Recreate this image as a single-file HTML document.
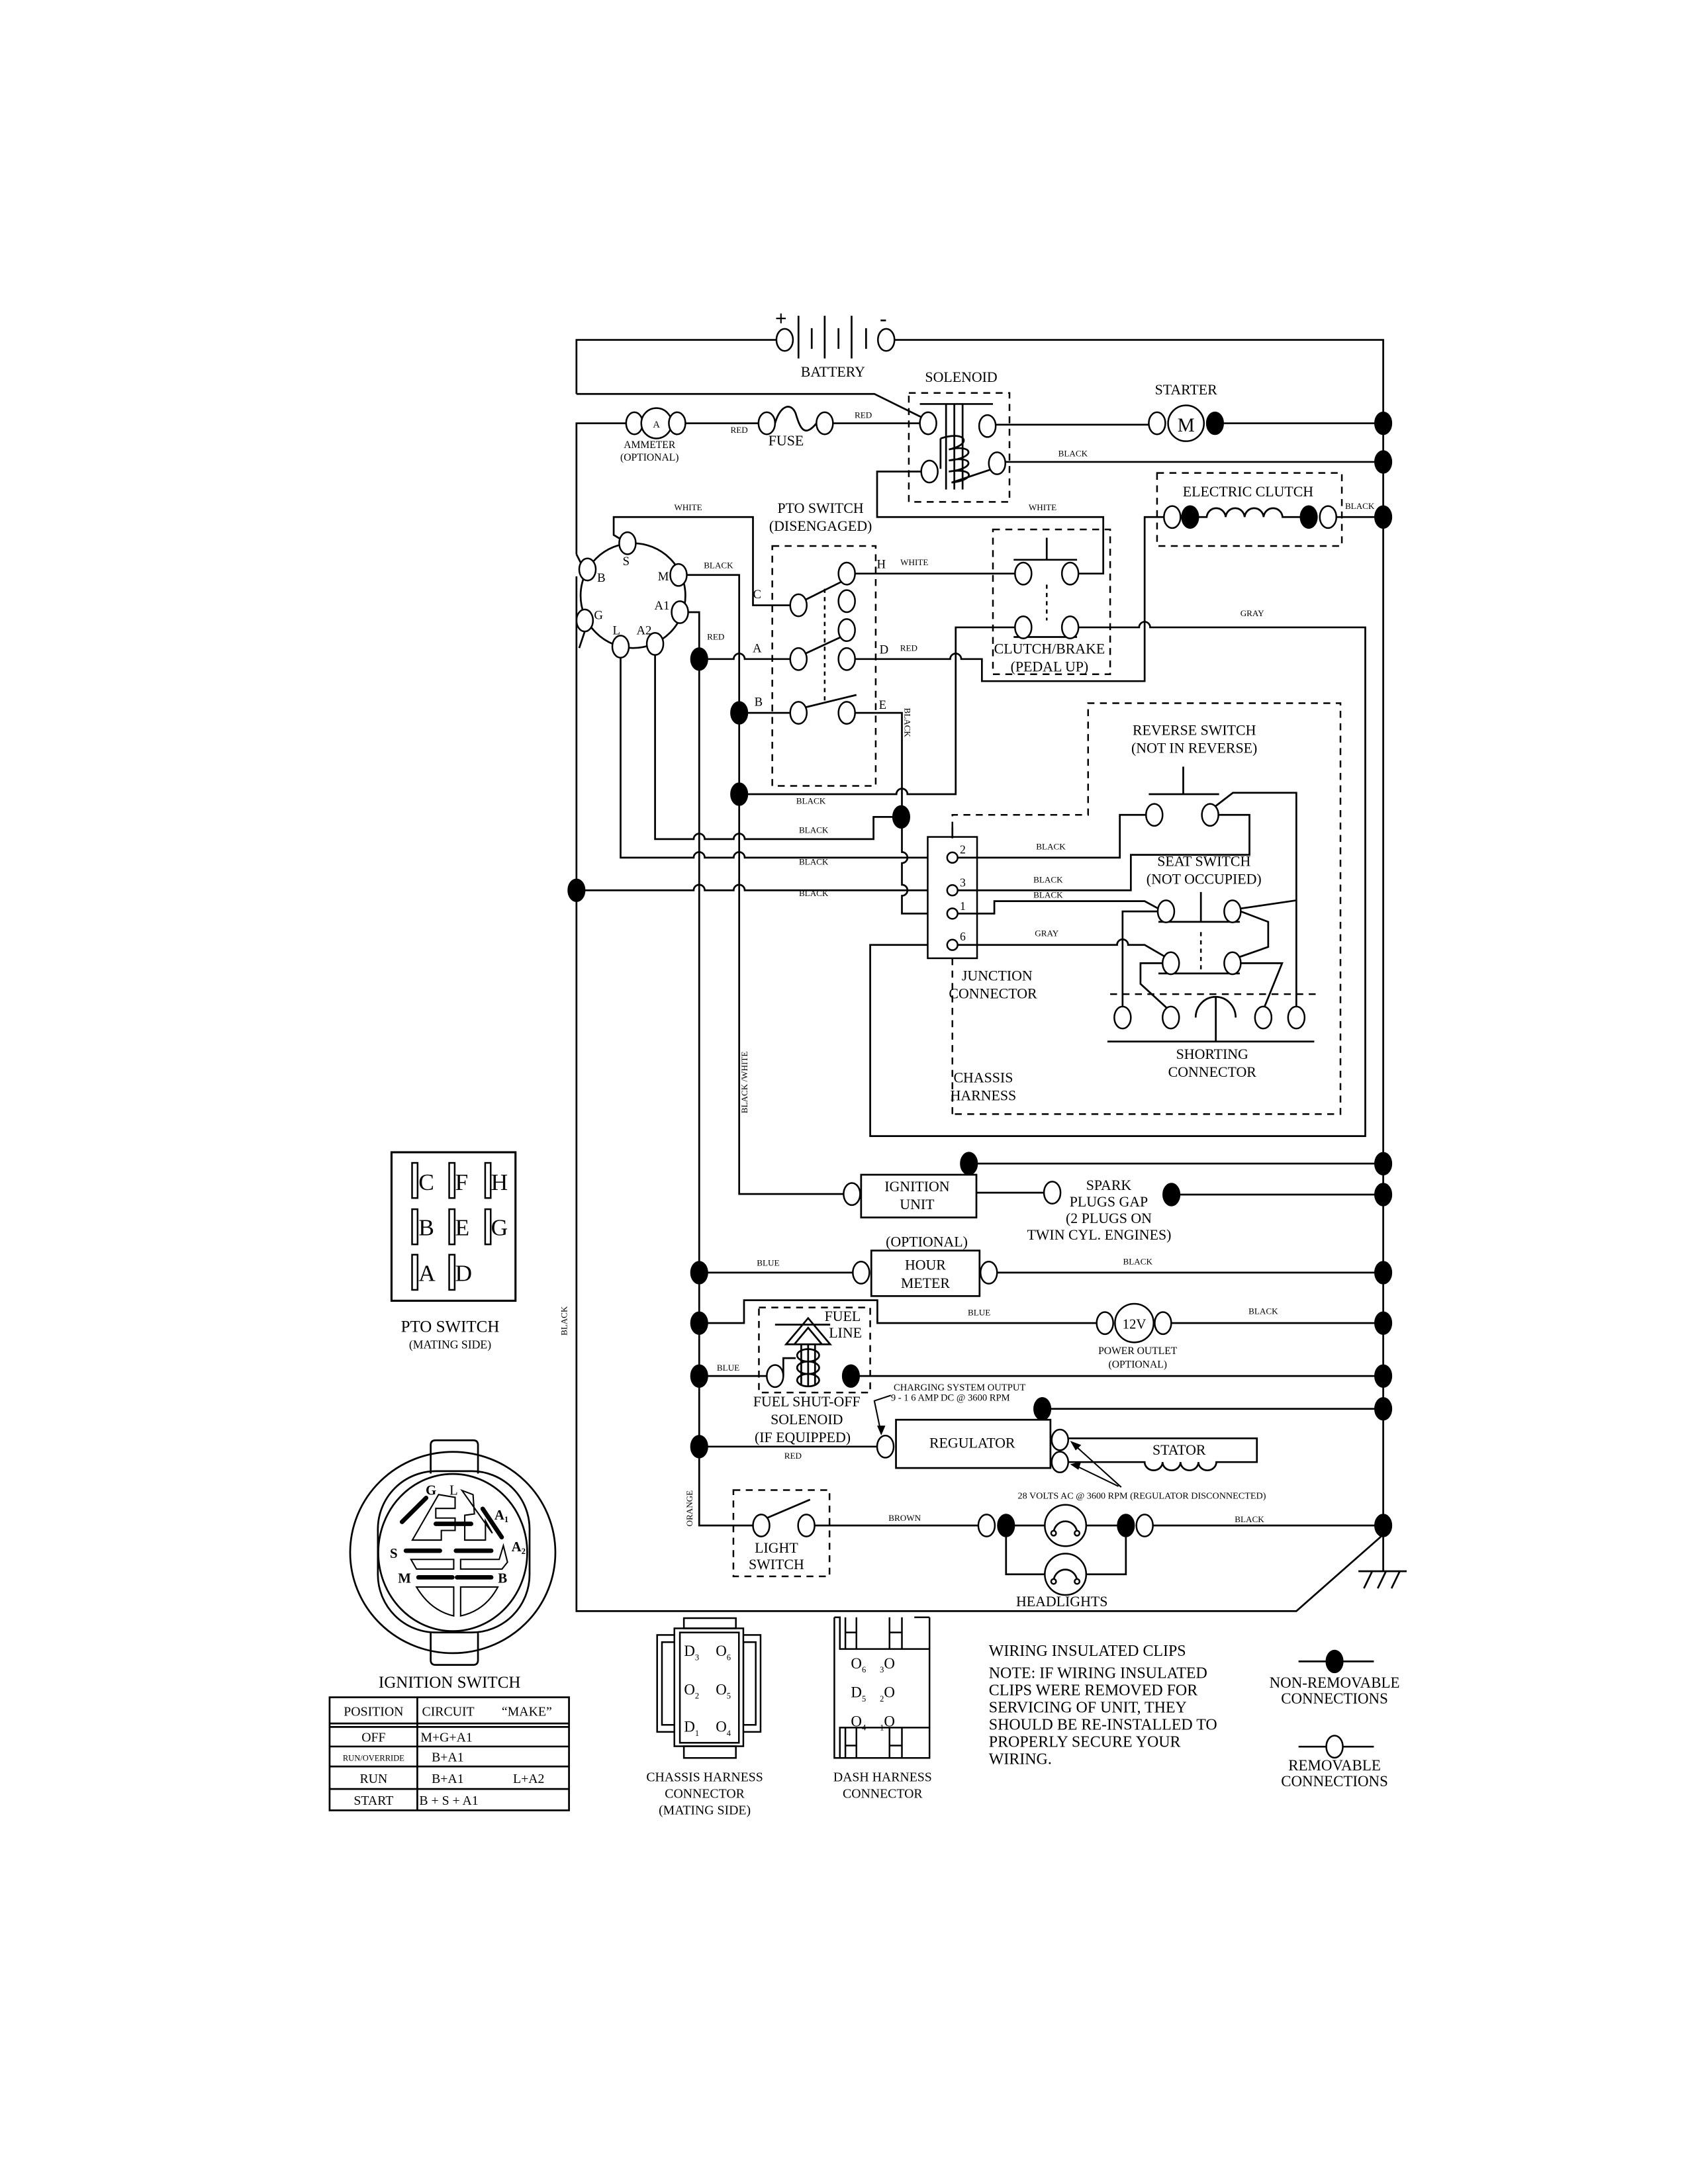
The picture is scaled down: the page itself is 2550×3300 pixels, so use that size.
<!DOCTYPE html>
<html><head><meta charset="utf-8"><style>
html,body{margin:0;padding:0;background:#fff;}
svg{display:block;}
.w{stroke:#000;fill:none;stroke-width:1.3;}
.dash{stroke:#000;fill:none;stroke-width:1.2;stroke-dasharray:5,4;}
.o{fill:#fff;stroke:#000;stroke-width:1.2;}
.d{fill:#000;stroke:#000;}
text{font-family:"Liberation Serif",serif;fill:#000;}
.L{font-size:10.5px;text-anchor:middle;}
.s{font-size:6.3px;text-anchor:middle;}
.m{font-size:9px;text-anchor:middle;}
</style></head><body>
<svg width="2550" height="3300" viewBox="0 0 1224 1584" xmlns="http://www.w3.org/2000/svg">
<rect width="1224" height="1584" fill="#fff"/>
<!-- Battery -->
<path class="w" d="M418,285.7 V246.5 H563"/>
<path class="w" d="M649,246.5 H1003 V1139.6"/>
<ellipse class="o" cx="569" cy="246.5" rx="6" ry="8"/>
<ellipse class="o" cx="642.6" cy="246.5" rx="6" ry="8"/>
<path class="w" d="M579,229 V260 M598,229 V260 M617.5,229 V260 M588.6,238 V253 M608,238 V253 M628,238 V253"/>
<text x="562" y="236" style="font-size:15px;font-weight:bold">+</text>
<text x="638" y="236" style="font-size:15px;font-weight:bold">-</text>
<text class="L" x="604" y="273">BATTERY</text>
<path class="w" d="M418,285.7 H634 L669,303"/>
<!-- Ammeter / fuse -->
<path class="w" d="M418,402 V307 H454 M497,307 H550 M604,307 H667"/>
<ellipse class="o" cx="460" cy="307" rx="6" ry="8"/>
<circle class="o" cx="476" cy="307" r="11"/>
<text x="476" y="310" style="font-size:7px;text-anchor:middle">A</text>
<ellipse class="o" cx="491" cy="307" rx="6" ry="8"/>
<ellipse class="o" cx="556" cy="307" rx="6" ry="8"/>
<path class="w" d="M562,307 C566,293 574,292 577,300 C580,310 583,318 592,307"/>
<ellipse class="o" cx="598" cy="307" rx="6" ry="8"/>
<text class="s" x="536" y="314">RED</text>
<text class="s" x="626" y="303">RED</text>
<text class="L" x="570" y="323">FUSE</text>
<text x="471" y="325" style="font-size:7.5px;text-anchor:middle">AMMETER</text>
<text x="471" y="334" style="font-size:7.5px;text-anchor:middle">(OPTIONAL)</text>
<!-- Solenoid -->
<rect class="dash" x="659" y="285" width="73" height="79"/>
<text class="L" x="697" y="277">SOLENOID</text>
<path class="w" d="M667,293 H720 M686,293 V355 M692,293 V355 M698,293 V355"/>
<path class="w" d="M682,318 C700,312 706,322 688,326 C706,322 708,332 688,334 C706,330 708,340 688,342 C706,339 708,348 690,350"/>
<path class="w" d="M682,318 V340 M690,350 L720,340"/>
<ellipse class="o" cx="673" cy="307" rx="6" ry="8"/>
<ellipse class="o" cx="716" cy="309" rx="6" ry="8"/>
<ellipse class="o" cx="674" cy="342" rx="6" ry="8"/>
<ellipse class="o" cx="723" cy="336" rx="6" ry="8"/>
<!-- Starter -->
<path class="w" d="M722,308 H833 M887,307 H1003"/>
<ellipse class="o" cx="839" cy="307" rx="6" ry="8"/>
<circle class="o" cx="860" cy="307" r="13"/>
<text x="860" y="313" style="font-size:14px;text-anchor:middle">M</text>
<ellipse class="d" cx="881" cy="307" rx="6" ry="8"/>
<text class="L" x="860" y="286">STARTER</text>
<path class="w" d="M729,335 H1003"/>
<text class="s" x="778" y="331">BLACK</text>
<path class="w" d="M668,342 H636 V375 H800 V416 H782"/>
<text class="s" x="756" y="370">WHITE</text>
<!-- Electric clutch -->
<rect class="dash" x="839" y="343" width="134" height="53"/>
<text class="L" x="905" y="360">ELECTRIC CLUTCH</text>
<path class="w" d="M869,375 H875 a6.9,7 0 0 1 13.75,0 a6.9,7 0 0 1 13.75,0 a6.9,7 0 0 1 13.75,0 a6.9,7 0 0 1 13.75,0 H943 M969,375 H1003"/>
<ellipse class="o" cx="850" cy="375" rx="6" ry="8"/>
<ellipse class="d" cx="863" cy="375" rx="6" ry="8"/>
<ellipse class="d" cx="949" cy="375" rx="6" ry="8"/>
<ellipse class="o" cx="963" cy="375" rx="6" ry="8"/>
<text class="s" x="986" y="369">BLACK</text>
<path class="w" d="M844,375 H830 V494 H712 V478 H697 a4,4 0 0 0 -8,0 H620"/>
<!-- Gray -->
<path class="w" d="M782,455 H826 a4,4 0 0 1 8,0 H990 V824 H631 V685.3 H686.6"/>
<text class="s" x="908" y="447">GRAY</text>
<!-- Clutch/brake -->
<rect class="dash" x="720" y="384" width="85" height="105"/>
<path class="w" d="M759,390 V406 M735,406 H781 M735,462 H781"/>
<path class="dash" d="M759,424 V450" style="stroke-dasharray:3,3"/>
<ellipse class="o" cx="742" cy="416" rx="6" ry="8"/>
<ellipse class="o" cx="776" cy="416" rx="6" ry="8"/>
<ellipse class="o" cx="742" cy="455" rx="6" ry="8"/>
<ellipse class="o" cx="776" cy="455" rx="6" ry="8"/>
<text class="L" x="761" y="474">CLUTCH/BRAKE</text>
<text class="L" x="761" y="487">(PEDAL UP)</text>
<path class="w" d="M736,455 H693 V576 H658 a4,4 0 0 0 -8,0 H536"/>
<text class="s" x="588" y="583">BLACK</text>
<path class="w" d="M620,416 H736"/>
<text class="s" x="663" y="410">WHITE</text>
<!-- PTO switch -->
<rect class="dash" x="560" y="396" width="75" height="174"/>
<text class="L" x="595" y="372">PTO SWITCH</text>
<text class="L" x="595" y="385">(DISENGAGED)</text>
<path class="w" d="M584,435 L612,421 M584,474 L612,461 M584,513 L621,504"/>
<path class="dash" d="M598,427 V511" style="stroke-dasharray:3,3"/>
<ellipse class="o" cx="579" cy="439" rx="6" ry="8"/>
<ellipse class="o" cx="614" cy="416" rx="6" ry="8"/>
<ellipse class="o" cx="614" cy="436" rx="6" ry="8"/>
<ellipse class="o" cx="579" cy="478" rx="6" ry="8"/>
<ellipse class="o" cx="614" cy="457" rx="6" ry="8"/>
<ellipse class="o" cx="614" cy="478" rx="6" ry="8"/>
<ellipse class="o" cx="579" cy="517" rx="6" ry="8"/>
<ellipse class="o" cx="614" cy="517" rx="6" ry="8"/>
<text class="m" x="549" y="434">C</text>
<text class="m" x="549" y="473">A</text>
<text class="m" x="550" y="512">B</text>
<text class="m" x="641" y="474">D</text>
<text class="m" x="640" y="514">E</text>
<text class="m" x="639" y="412">H</text>
<text class="s" x="659" y="472">RED</text>
<path class="w" d="M573,439 H546 V375 H445 V388 L450,391"/>
<text class="s" x="499" y="370">WHITE</text>
<!-- Ignition switch terminals -->
<circle class="w" cx="459" cy="432" r="38"/>
<ellipse class="o" cx="426" cy="413" rx="6" ry="8"/>
<ellipse class="o" cx="455" cy="394" rx="6" ry="8"/>
<ellipse class="o" cx="492" cy="417" rx="6" ry="8"/>
<ellipse class="o" cx="493" cy="444" rx="6" ry="8"/>
<ellipse class="o" cx="475" cy="467" rx="6" ry="8"/>
<ellipse class="o" cx="450" cy="469" rx="6" ry="8"/>
<ellipse class="o" cx="424" cy="450" rx="6" ry="8"/>
<text class="m" x="454" y="410">S</text>
<text class="m" x="481" y="421">M</text>
<text class="m" x="480" y="442">A1</text>
<text class="m" x="467" y="460">A2</text>
<text class="m" x="447" y="460">L</text>
<text class="m" x="434" y="449">G</text>
<text class="m" x="436" y="422">B</text>
<path class="w" d="M418,402 L421,408"/>
<path class="w" d="M498,417 H536 V866 H611.7"/>
<text class="s" x="521" y="412">BLACK</text>
<ellipse class="d" cx="536" cy="517" rx="6" ry="8"/>
<ellipse class="d" cx="536" cy="576" rx="6" ry="8"/>
<path class="w" d="M536,517 H573"/>
<path class="w" d="M499,444 H507 V1106.4 H546"/>
<path class="w" d="M507,478 H532 a4,4 0 0 1 8,0 H573"/>
<ellipse class="d" cx="507" cy="478" rx="6" ry="8"/>
<text class="s" x="519" y="464">RED</text>
<!-- Left long line -->
<path class="w" d="M418,418 V1168.5 H940 L1003,1113"/>
<path class="w" d="M424,458 L420,470"/>
<ellipse class="d" cx="418" cy="645.7" rx="6" ry="8"/>
<text class="s" transform="translate(411,958) rotate(-90)">BLACK</text>
<!-- Rows -->
<path class="w" d="M475,475 V608.6 H503 a4,4 0 0 1 8,0 H532 a4,4 0 0 1 8,0 H633.4 V592.5 H650"/>
<ellipse class="d" cx="653.5" cy="592.5" rx="6" ry="8"/>
<path class="w" d="M620,517 H654 V618 a4,4 0 0 1 0,8 V641.7 a4,4 0 0 1 0,8 V662.6 H686.6"/>
<text class="s" transform="translate(656,524) rotate(90)">BLACK</text>
<path class="w" d="M450,477 V622 H503 a4,4 0 0 1 8,0 H532 a4,4 0 0 1 8,0 H686.6"/>
<path class="w" d="M418,645.7 H503 a4,4 0 0 1 8,0 H532 a4,4 0 0 1 8,0 H686.6"/>
<text class="s" x="590" y="604">BLACK</text>
<text class="s" x="590" y="627">BLACK</text>
<text class="s" x="590" y="650">BLACK</text>
<text class="s" transform="translate(542,785) rotate(-90)">BLACK /WHITE</text>
<!-- Junction & chassis harness -->
<path class="dash" d="M690.6,808 V591 H789 V510 H972 V808 Z"/>
<rect x="672.7" y="607" width="35.8" height="88" fill="#fff" stroke="#000" stroke-width="1.2"/>
<path class="w" d="M690.6,600 V608"/>
<circle class="o" cx="690.6" cy="622" r="3.8"/>
<circle class="o" cx="690.6" cy="645.7" r="3.8"/>
<circle class="o" cx="690.6" cy="662.6" r="3.8"/>
<circle class="o" cx="690.6" cy="685.3" r="3.8"/>
<text x="696" y="619" style="font-size:8.5px">2</text>
<text x="696" y="643" style="font-size:8.5px">3</text>
<text x="696" y="660" style="font-size:8.5px">1</text>
<text x="696" y="682" style="font-size:8.5px">6</text>
<text class="L" x="723" y="711">JUNCTION</text>
<text class="L" x="720" y="724">CONNECTOR</text>
<text class="L" x="713" y="785">CHASSIS</text>
<text class="L" x="713" y="798">HARNESS</text>
<!-- Reverse switch -->
<text class="L" x="866" y="533">REVERSE SWITCH</text>
<text class="L" x="866" y="546">(NOT IN REVERSE)</text>
<path class="w" d="M694.4,622 H812 V591 H831 M858,556 V576 M833,576 H884"/>
<ellipse class="o" cx="837" cy="591" rx="6" ry="8"/>
<path class="w" d="M881,585 L894,575 H940 V730 M940,653 L899,659"/>
<path class="w" d="M883.5,591 H906 V620 H820 V645.7 H694.4"/>
<ellipse class="o" cx="877.5" cy="591" rx="6" ry="8"/>
<text class="s" x="762" y="616">BLACK</text>
<text class="s" x="760" y="640">BLACK</text>
<text class="s" x="760" y="651">BLACK</text>
<text class="s" x="759" y="679">GRAY</text>
<!-- Seat switch -->
<text class="L" x="873" y="628">SEAT SWITCH</text>
<text class="L" x="873" y="641">(NOT OCCUPIED)</text>
<path class="w" d="M694.4,662.6 H721 V653.6 H830 L840,659"/>
<path class="w" d="M694.4,685.3 H810 a4,4 0 0 1 8,0 H830 L845,694"/>
<path class="w" d="M839.5,661 H814 V730"/>
<path class="w" d="M843,698.6 H827 V713.6 L846,731"/>
<path class="w" d="M899.7,661 L919.6,668.6 V686.8 L899,694"/>
<path class="w" d="M899.7,698.6 H929.7 L917,730"/>
<path class="w" d="M840,668.6 H899 M870.8,647 V668.6 M840,706 H899"/>
<path class="dash" d="M870.8,676 V706" style="stroke-dasharray:3,3"/>
<ellipse class="o" cx="845.5" cy="661" rx="6" ry="8"/>
<ellipse class="o" cx="893.7" cy="661" rx="6" ry="8"/>
<ellipse class="o" cx="849" cy="698.6" rx="6" ry="8"/>
<ellipse class="o" cx="893.7" cy="698.6" rx="6" ry="8"/>
<!-- Shorting connector -->
<path class="dash" d="M805,721 H958"/>
<path class="w" d="M867,738 A14.5,15 0 0 1 896,738 M881.6,723 V755.4 M803,755.4 H953"/>
<ellipse class="o" cx="814" cy="738" rx="6" ry="8"/>
<ellipse class="o" cx="849" cy="738" rx="6" ry="8"/>
<ellipse class="o" cx="916" cy="738" rx="6" ry="8"/>
<ellipse class="o" cx="940" cy="738" rx="6" ry="8"/>
<text class="L" x="879" y="768">SHORTING</text>
<text class="L" x="879" y="781">CONNECTOR</text>
<!-- Ignition unit -->
<ellipse class="o" cx="617.7" cy="866" rx="6" ry="8"/>
<rect x="624.4" y="852" width="83.6" height="31" class="w"/>
<text class="L" x="665" y="864">IGNITION</text>
<text class="L" x="665" y="877">UNIT</text>
<path class="w" d="M708,865 H757"/>
<ellipse class="o" cx="763" cy="865" rx="6" ry="8"/>
<path class="w" d="M702.6,843.9 H1003 M849.4,866.4 H1003"/>
<ellipse class="d" cx="702.6" cy="843.9" rx="6" ry="8"/>
<ellipse class="d" cx="849.4" cy="866.4" rx="6" ry="8"/>
<text class="L" x="804" y="863">SPARK</text>
<text class="L" x="804" y="875">PLUGS GAP</text>
<text class="L" x="804" y="887">(2 PLUGS ON</text>
<text class="L" x="797" y="899">TWIN CYL. ENGINES)</text>
<!-- Hour meter -->
<text class="L" x="672" y="904">(OPTIONAL)</text>
<path class="w" d="M507,923 H618.4 M723,923 H1003"/>
<ellipse class="o" cx="624.4" cy="923" rx="6" ry="8"/>
<rect x="631.8" y="907" width="78.5" height="33" fill="#fff" stroke="#000" stroke-width="1.3"/>
<ellipse class="o" cx="717" cy="923" rx="6" ry="8"/>
<text class="L" x="671" y="921">HOUR</text>
<text class="L" x="671" y="934">METER</text>
<text class="s" x="557" y="918">BLUE</text>
<text class="s" x="825" y="917">BLACK</text>
<!-- Power outlet -->
<path class="w" d="M507,959.6 H539.5 V943 H636.2 V959.6 H795 M849.3,959.6 H1003"/>
<ellipse class="o" cx="801.2" cy="959.6" rx="6" ry="8"/>
<circle class="o" cx="822.5" cy="959.6" r="14"/>
<text x="822.5" y="963.5" style="font-size:10px;text-anchor:middle">12V</text>
<ellipse class="o" cx="843.3" cy="959.6" rx="6" ry="8"/>
<text class="s" x="710" y="954">BLUE</text>
<text class="s" x="916" y="953">BLACK</text>
<text x="825" y="982" style="font-size:7.5px;text-anchor:middle">POWER OUTLET</text>
<text x="825" y="992" style="font-size:7.5px;text-anchor:middle">(OPTIONAL)</text>
<!-- Fuel shut-off -->
<rect class="dash" x="550.3" y="948.3" width="80.7" height="61.7"/>
<path class="w" d="M507,998 H556 M623,998 H1003"/>
<ellipse class="o" cx="562" cy="998" rx="6" ry="8"/>
<ellipse class="d" cx="617" cy="998" rx="6" ry="8"/>
<path class="w" d="M562,960.7 H602 M570,975 L586,956 L602,975 Z M576,975 L586,963 L596,975 M581,975 V1005 M586,975 V1005 M591,975 V1005"/>
<path class="w" d="M568,998 V985 H577 M578,983 a8,4.5 0 1 0 16,0 a8,4.5 0 1 0 -16,0 M578,992 a8,4.5 0 1 0 16,0 a8,4.5 0 1 0 -16,0 M578,1001 a8,4.5 0 1 0 16,0 a8,4.5 0 1 0 -16,0"/>
<text class="L" x="611" y="958">FUEL</text>
<text class="L" x="613" y="970">LINE</text>
<text class="s" x="528" y="994">BLUE</text>
<text class="L" x="585" y="1020">FUEL SHUT-OFF</text>
<text class="L" x="585" y="1033">SOLENOID</text>
<text class="L" x="582" y="1046">(IF EQUIPPED)</text>
<text x="648" y="1008.5" style="font-size:7px">CHARGING SYSTEM OUTPUT</text>
<text x="646" y="1016" style="font-size:7px">9 - 1 6 AMP DC @ 3600 RPM</text>
<path class="w" d="M646,1012 L634,1016 L639,1040" style="stroke-width:1"/>
<path d="M636,1034 L639,1041 L642,1034 Z" fill="#000"/>
<!-- Regulator -->
<path class="w" d="M755.8,1021.8 H1003"/>
<ellipse class="d" cx="755.8" cy="1021.8" rx="6" ry="8"/>
<path class="w" d="M507,1049.2 H636"/>
<text class="s" x="575" y="1058">RED</text>
<ellipse class="o" cx="642" cy="1049.2" rx="6" ry="8"/>
<rect x="649.7" y="1029.7" width="112" height="35" class="w"/>
<text class="L" x="705" y="1050">REGULATOR</text>
<path class="w" d="M774.6,1043.2 H911.4 V1060.4 H882 a6.5,6 0 0 1 -13,0 a6.5,6 0 0 1 -13,0 a6.5,6 0 0 1 -13,0 a6.5,6 0 0 1 -13,0 H774.6"/>
<ellipse class="o" cx="768.6" cy="1044.3" rx="6" ry="7.5"/>
<ellipse class="o" cx="768.6" cy="1060.4" rx="6" ry="7.5"/>
<text class="L" x="855" y="1055">STATOR</text>
<path class="w" d="M813,1078.6 L778,1047 M811,1078 L778,1062" style="stroke-width:1"/>
<path d="M776,1045 L784,1048 L780,1052 Z M776,1062 L784,1060 L782,1066 Z" fill="#000"/>
<text x="828" y="1087" style="font-size:6.8px;text-anchor:middle">28 VOLTS AC @ 3600 RPM (REGULATOR DISCONNECTED)</text>
<!-- Light switch / headlights -->
<text class="s" transform="translate(502,1094) rotate(-90)">ORANGE</text>
<rect class="dash" x="531.8" y="1080.7" width="69.7" height="62.6"/>
<ellipse class="o" cx="552" cy="1106.4" rx="6" ry="8"/>
<ellipse class="o" cx="584.7" cy="1106.4" rx="6" ry="8"/>
<path class="w" d="M556,1101 L587.4,1087.6 M590.7,1106.4 H709.4"/>
<text class="L" x="563" y="1126">LIGHT</text>
<text class="L" x="563" y="1138">SWITCH</text>
<text class="s" x="656" y="1103">BROWN</text>
<ellipse class="o" cx="715.4" cy="1106.4" rx="6" ry="8"/>
<ellipse class="d" cx="729.5" cy="1106.4" rx="6" ry="8"/>
<path class="w" d="M735,1106.4 H757.6 M787.6,1106.4 H810 M836,1106.4 H1003"/>
<circle class="o" cx="772.6" cy="1106.4" r="15"/>
<path class="w" d="M764,1111 A8.6,9 0 0 1 781,1111"/>
<circle class="o" cx="764" cy="1112" r="1.8"/><circle class="o" cx="781" cy="1112" r="1.8"/>
<ellipse class="d" cx="816.4" cy="1106.4" rx="6" ry="8"/>
<ellipse class="o" cx="830" cy="1106.4" rx="6" ry="8"/>
<path class="w" d="M729.5,1106.4 V1141.8 H757.6 M787.6,1141.8 H816.4 V1106.4"/>
<circle class="o" cx="772.6" cy="1141.8" r="15"/>
<path class="w" d="M764,1146 A8.6,9 0 0 1 781,1146"/>
<circle class="o" cx="764" cy="1147" r="1.8"/><circle class="o" cx="781" cy="1147" r="1.8"/>
<text class="s" x="906" y="1104">BLACK</text>
<text class="L" x="770" y="1165">HEADLIGHTS</text>
<!-- Ground -->
<path class="w" d="M985,1139.6 H1020 M995,1139.6 L989,1152 M1005,1139.6 L999,1152 M1015,1139.6 L1009,1152"/>
<!-- Right side dots -->
<g class="d">
<ellipse cx="1003" cy="307" rx="6" ry="8"/><ellipse cx="1003" cy="335" rx="6" ry="8"/><ellipse cx="1003" cy="375" rx="6" ry="8"/>
<ellipse cx="1003" cy="844" rx="6" ry="8"/><ellipse cx="1003" cy="866.4" rx="6" ry="8"/><ellipse cx="1003" cy="923" rx="6" ry="8"/>
<ellipse cx="1003" cy="959.6" rx="6" ry="8"/><ellipse cx="1003" cy="998" rx="6" ry="8"/><ellipse cx="1003" cy="1021.8" rx="6" ry="8"/>
<ellipse cx="1003" cy="1106.4" rx="6" ry="8"/>
<ellipse cx="507" cy="923" rx="6" ry="8"/><ellipse cx="507" cy="959.6" rx="6" ry="8"/><ellipse cx="507" cy="998" rx="6" ry="8"/><ellipse cx="507" cy="1049.2" rx="6" ry="8"/>
</g>
<!-- PTO mating side -->
<rect x="283.9" y="835.7" width="89.9" height="107.7" class="w" style="stroke-width:1.5"/>
<g fill="#fff" stroke="#000" stroke-width="1.2">
<rect x="298.8" y="843.4" width="4" height="25.5"/><rect x="325.7" y="843.4" width="4" height="25.5"/><rect x="351.8" y="843.4" width="4" height="25.5"/>
<rect x="298.8" y="877" width="4" height="25.5"/><rect x="325.7" y="877" width="4" height="25.5"/><rect x="351.8" y="877" width="4" height="25.5"/>
<rect x="298.8" y="910" width="4" height="25.5"/><rect x="325.7" y="910" width="4" height="25.5"/>
</g>
<g style="font-size:17px">
<text x="303.5" y="863">C</text><text x="330" y="863">F</text><text x="356" y="863">H</text>
<text x="303.5" y="896">B</text><text x="330" y="896">E</text><text x="356" y="896">G</text>
<text x="303.5" y="929">A</text><text x="330" y="929">D</text>
</g>
<text x="326.4" y="966" style="font-size:12px;text-anchor:middle">PTO SWITCH</text>
<text x="326.4" y="978" style="font-size:8.5px;text-anchor:middle">(MATING SIDE)</text>
<!-- Ignition switch drawing -->
<ellipse class="w" cx="328.3" cy="1126" rx="74.4" ry="73"/>
<rect x="274" y="1067" width="110" height="117" rx="42" ry="42" class="w"/>
<ellipse class="w" cx="328.3" cy="1126" rx="54" ry="57" fill="#fff"/>
<path class="w" d="M312.3,1068.7 V1048 Q312.3,1044.6 316,1044.6 H343 Q346.6,1044.6 346.6,1048 V1068.7"/>
<path class="w" d="M312.3,1184.4 V1204 Q312.3,1207.5 316,1207.5 H343 Q346.6,1207.5 346.6,1204 V1184.4"/>
<path class="w" d="M318,1084 L299,1117 H320 V1110 H330 V1101 H316 V1094 H330 V1086 Z" style="stroke-width:1"/>
<path class="w" d="M335,1081 L343,1084 L344,1098 L337,1099 V1117 H352 V1103 L357,1112 Z" style="stroke-width:1"/>
<path class="w" d="M298,1131 H329 V1138 H302 Z M334,1131 H362 L365,1121 L368,1133 L364,1138 H334 Z" style="stroke-width:1"/>
<path class="w" d="M302,1151 H329 V1172 Q312,1168 302,1151 Z M334,1151 H361 Q352,1168 334,1172 Z" style="stroke-width:1"/>
<g stroke="#000" stroke-width="3.2" stroke-linecap="round">
<path d="M291.5,1103.8 L309,1086.4 M350,1094.3 L363.8,1114.9 M316,1105.2 H341.6 M294.3,1124.7 H319 M330.6,1124.7 H356.2 M303.4,1144 H328 M331.4,1144 H356.2"/>
</g>
<g style="font-family:'Liberation Sans',sans-serif;font-weight:bold;font-size:10px;text-anchor:middle">
<text x="312.5" y="1084">G</text><text x="329" y="1084" style="font-weight:normal">L</text>
<text x="363.6" y="1102">A<tspan style="font-size:6px" dy="2">1</tspan></text>
<text x="376" y="1125">A<tspan style="font-size:6px" dy="2">2</tspan></text>
<text x="285.5" y="1130">S</text><text x="293.3" y="1148">M</text><text x="364.4" y="1148">B</text>
</g>
<text x="326" y="1224" style="font-size:12px;text-anchor:middle">IGNITION SWITCH</text>
<!-- Table -->
<g class="w" style="stroke-width:1.3">
<rect x="239" y="1231" width="173.6" height="82"/>
<path d="M239,1250 H412.6 M239,1252.5 H412.6 M239,1266.7 H412.6 M239,1281.2 H412.6 M239,1297.5 H412.6 M302.6,1231 V1313"/>
</g>
<g style="font-size:9.5px">
<text x="270.9" y="1244.5" text-anchor="middle">POSITION</text>
<text x="306" y="1244.5">CIRCUIT</text>
<text x="382" y="1244.5" text-anchor="middle">“MAKE”</text>
<text x="270.9" y="1263" text-anchor="middle">OFF</text>
<text x="305" y="1263">M+G+A1</text>
<text x="270.9" y="1277" text-anchor="middle" style="font-size:6px">RUN/OVERRIDE</text>
<text x="313" y="1277.5">B+A1</text>
<text x="270.9" y="1293" text-anchor="middle">RUN</text>
<text x="313" y="1293">B+A1</text>
<text x="372" y="1293">L+A2</text>
<text x="270.9" y="1309" text-anchor="middle">START</text>
<text x="304" y="1309">B + S + A1</text>
</g>
<!-- Chassis harness connector -->
<g class="w" style="stroke-width:1.2">
<rect x="476.5" y="1185.8" width="75" height="70.3"/>
<rect x="480" y="1191" width="9" height="60"/><rect x="539" y="1191" width="9" height="60"/>
<rect x="489" y="1181" width="50" height="85.5" fill="#fff"/>
<rect x="493" y="1184" width="42.8" height="80"/>
<rect x="495.9" y="1173.6" width="37.7" height="7.4"/>
<rect x="495.9" y="1266.5" width="37.7" height="8.5"/>
</g>
<g style="font-size:11px">
<text x="496" y="1201">D<tspan style="font-size:6px" dy="3">3</tspan></text>
<text x="519" y="1201">O<tspan style="font-size:6px" dy="3">6</tspan></text>
<text x="496" y="1229">O<tspan style="font-size:6px" dy="3">2</tspan></text>
<text x="519" y="1229">O<tspan style="font-size:6px" dy="3">5</tspan></text>
<text x="496" y="1256">D<tspan style="font-size:6px" dy="3">1</tspan></text>
<text x="519" y="1256">O<tspan style="font-size:6px" dy="3">4</tspan></text>
</g>
<text x="511" y="1292" style="font-size:9.5px;text-anchor:middle">CHASSIS HARNESS</text>
<text x="511" y="1304" style="font-size:9.5px;text-anchor:middle">CONNECTOR</text>
<text x="511" y="1316" style="font-size:9.5px;text-anchor:middle">(MATING SIDE)</text>
<!-- Dash harness connector -->
<g class="w" style="stroke-width:1.2">
<path d="M605,1173 H609 V1196 H674 V1173 M605,1173 V1275 H674 V1173"/>
<path d="M613,1173 V1196 M621,1173 V1196 M613,1184 H621 M645,1173 V1196 M654,1173 V1196 M645,1184 H654 M663,1173 H674"/>
<path d="M609,1275 V1253 H674 M613,1253 V1275 M621,1253 V1275 M613,1266 H621 M645,1253 V1275 M654,1253 V1275 M645,1266 H654"/>
</g>
<g style="font-size:11px">
<text x="617" y="1210">O<tspan style="font-size:6px" dy="3">6</tspan></text>
<text x="638" y="1210"><tspan style="font-size:6px" dy="3">3</tspan><tspan dy="-3">O</tspan></text>
<text x="617" y="1231">D<tspan style="font-size:6px" dy="3">5</tspan></text>
<text x="638" y="1231"><tspan style="font-size:6px" dy="3">2</tspan><tspan dy="-3">O</tspan></text>
<text x="617" y="1252">O<tspan style="font-size:6px" dy="3">4</tspan></text>
<text x="638" y="1252"><tspan style="font-size:6px" dy="3">1</tspan><tspan dy="-3">O</tspan></text>
</g>
<text x="640" y="1292" style="font-size:9.5px;text-anchor:middle">DASH HARNESS</text>
<text x="640" y="1304" style="font-size:9.5px;text-anchor:middle">CONNECTOR</text>
<!-- Notes -->
<g style="font-size:11.5px">
<text x="717" y="1201">WIRING INSULATED CLIPS</text>
<text x="717" y="1217">NOTE:  IF WIRING INSULATED</text>
<text x="717" y="1229.5">CLIPS WERE REMOVED FOR</text>
<text x="717" y="1242">SERVICING OF UNIT, THEY</text>
<text x="717" y="1254.5">SHOULD BE RE-INSTALLED TO</text>
<text x="717" y="1267">PROPERLY SECURE YOUR</text>
<text x="717" y="1279.5">WIRING.</text>
</g>
<path class="w" d="M941.6,1205 H996.2 M941.6,1266.8 H996.2"/>
<ellipse class="d" cx="967.7" cy="1205" rx="6" ry="8"/>
<ellipse class="o" cx="967.7" cy="1266.8" rx="6" ry="8"/>
<g style="font-size:11px;text-anchor:middle">
<text x="967.7" y="1224">NON-REMOVABLE</text>
<text x="967.7" y="1235.5">CONNECTIONS</text>
<text x="967.7" y="1284">REMOVABLE</text>
<text x="967.7" y="1295.5">CONNECTIONS</text>
</g>
</svg>
</body></html>
